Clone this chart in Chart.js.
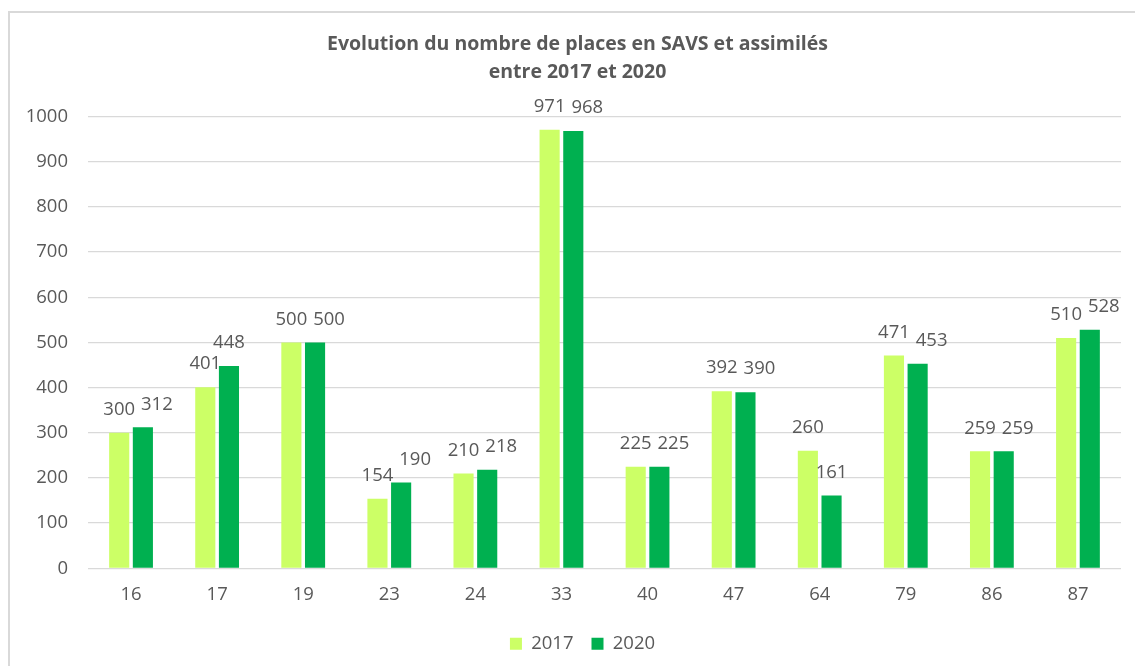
<!DOCTYPE html>
<html>
<head>
<meta charset="utf-8">
<script src="https://cdn.jsdelivr.net/npm/chart.js@4"></script>
<style>
  html, body { margin: 0; padding: 0; background: #fff; }
  #wrap { position: absolute; left: 0; top: 0; width: 1135px; height: 666px; }
  #frame { position: absolute; left: 8px; top: 11px; width: 1140px; height: 680px; border: 2px solid #d9d9d9; box-sizing: border-box; pointer-events: none; }
  canvas { position: absolute; left: 0; top: 0; }
</style>
</head>
<body>
<div id="wrap">
  <canvas id="c" width="1135" height="666"></canvas>
  <div id="frame"></div>
</div>
<script>
const categories = ["16", "17", "19", "23", "24", "33", "40", "47", "64", "79", "86", "87"];
const values2017 = [300, 401, 500, 154, 210, 971, 225, 392, 260, 471, 259, 510];
const values2020 = [312, 448, 500, 190, 218, 968, 225, 390, 161, 453, 259, 528];
const seriesNames = ["2017", "2020"];
const titleLines = ["Evolution du nombre de places en SAVS et assimilés", "entre 2017 et 2020"];

const FONT = "'Open Sans', 'Liberation Sans', sans-serif";
const TEXT = "#595959";
const FS = 18.5;

const labelPlugin = {
  id: 'barLabels',
  afterLayout(chart) {
    if (chart.titleBlock) { chart.titleBlock.left += 17; chart.titleBlock.right += 17; }
    if (chart.legend) { chart.legend.left += 22; chart.legend.right += 22; }
  },
  afterDatasetsDraw(chart) {
    const ctx = chart.ctx;
    const m0 = chart.getDatasetMeta(0);
    const m1 = chart.getDatasetMeta(1);
    ctx.save();
    ctx.font = FS + "px " + FONT;
    ctx.fillStyle = TEXT;
    ctx.textAlign = 'center';
    ctx.textBaseline = 'middle';
    for (let i = 0; i < categories.length; i++) {
      const b0 = m0.data[i], b1 = m1.data[i];
      const y0 = b0.y - 23, y1 = b1.y - 23;
      let dx1 = 0;
      if (Math.abs(y0 - y1) < 18) dx1 = 14;
      ctx.fillText(String(values2017[i]), b0.x, y0);
      ctx.fillText(String(values2020[i]), b1.x + dx1, y1);
    }
    ctx.restore();
  }
};

new Chart(document.getElementById('c'), {
  type: 'bar',
  data: {
    labels: categories,
    datasets: [
      { label: seriesNames[0], data: values2017, backgroundColor: '#ccff66', borderWidth: 0 },
      { label: seriesNames[1], data: values2020, backgroundColor: '#00b050', borderWidth: 0 }
    ]
  },
  options: {
    responsive: false,
    animation: false,
    devicePixelRatio: 1,
    datasets: { bar: { categoryPercentage: 0.55, barPercentage: 0.85 } },
    layout: { padding: { left: 0, right: 14, top: 0, bottom: 3 } },
    plugins: {
      title: {
        display: true,
        text: titleLines,
        color: TEXT,
        font: { family: FONT, size: 19.5, weight: 'bold', lineHeight: 1.4 },
        padding: { top: 31, bottom: 31 }
      },
      legend: {
        position: 'bottom',
        labels: {
          color: TEXT,
          font: { family: FONT, size: FS },
          boxWidth: 12,
          boxHeight: 12,
          padding: 18
        }
      },
      tooltip: { enabled: false }
    },
    scales: {
      x: {
        grid: { display: false },
        border: { display: false },
        afterFit(scale) { scale.height += 4; },
        ticks: { color: TEXT, font: { family: FONT, size: FS }, padding: 7 }
      },
      y: {
        min: 0,
        max: 1000,
        afterFit(scale) { scale.width = 88; },
        grid: { color: '#d9d9d9', lineWidth: 1.3, drawTicks: false },
        border: { display: false },
        ticks: {
          stepSize: 100, color: TEXT, font: { family: FONT, size: FS }, padding: 20,
          callback: (v) => String(v)
        }
      }
    }
  },
  plugins: [labelPlugin]
});
</script>
</body>
</html>
